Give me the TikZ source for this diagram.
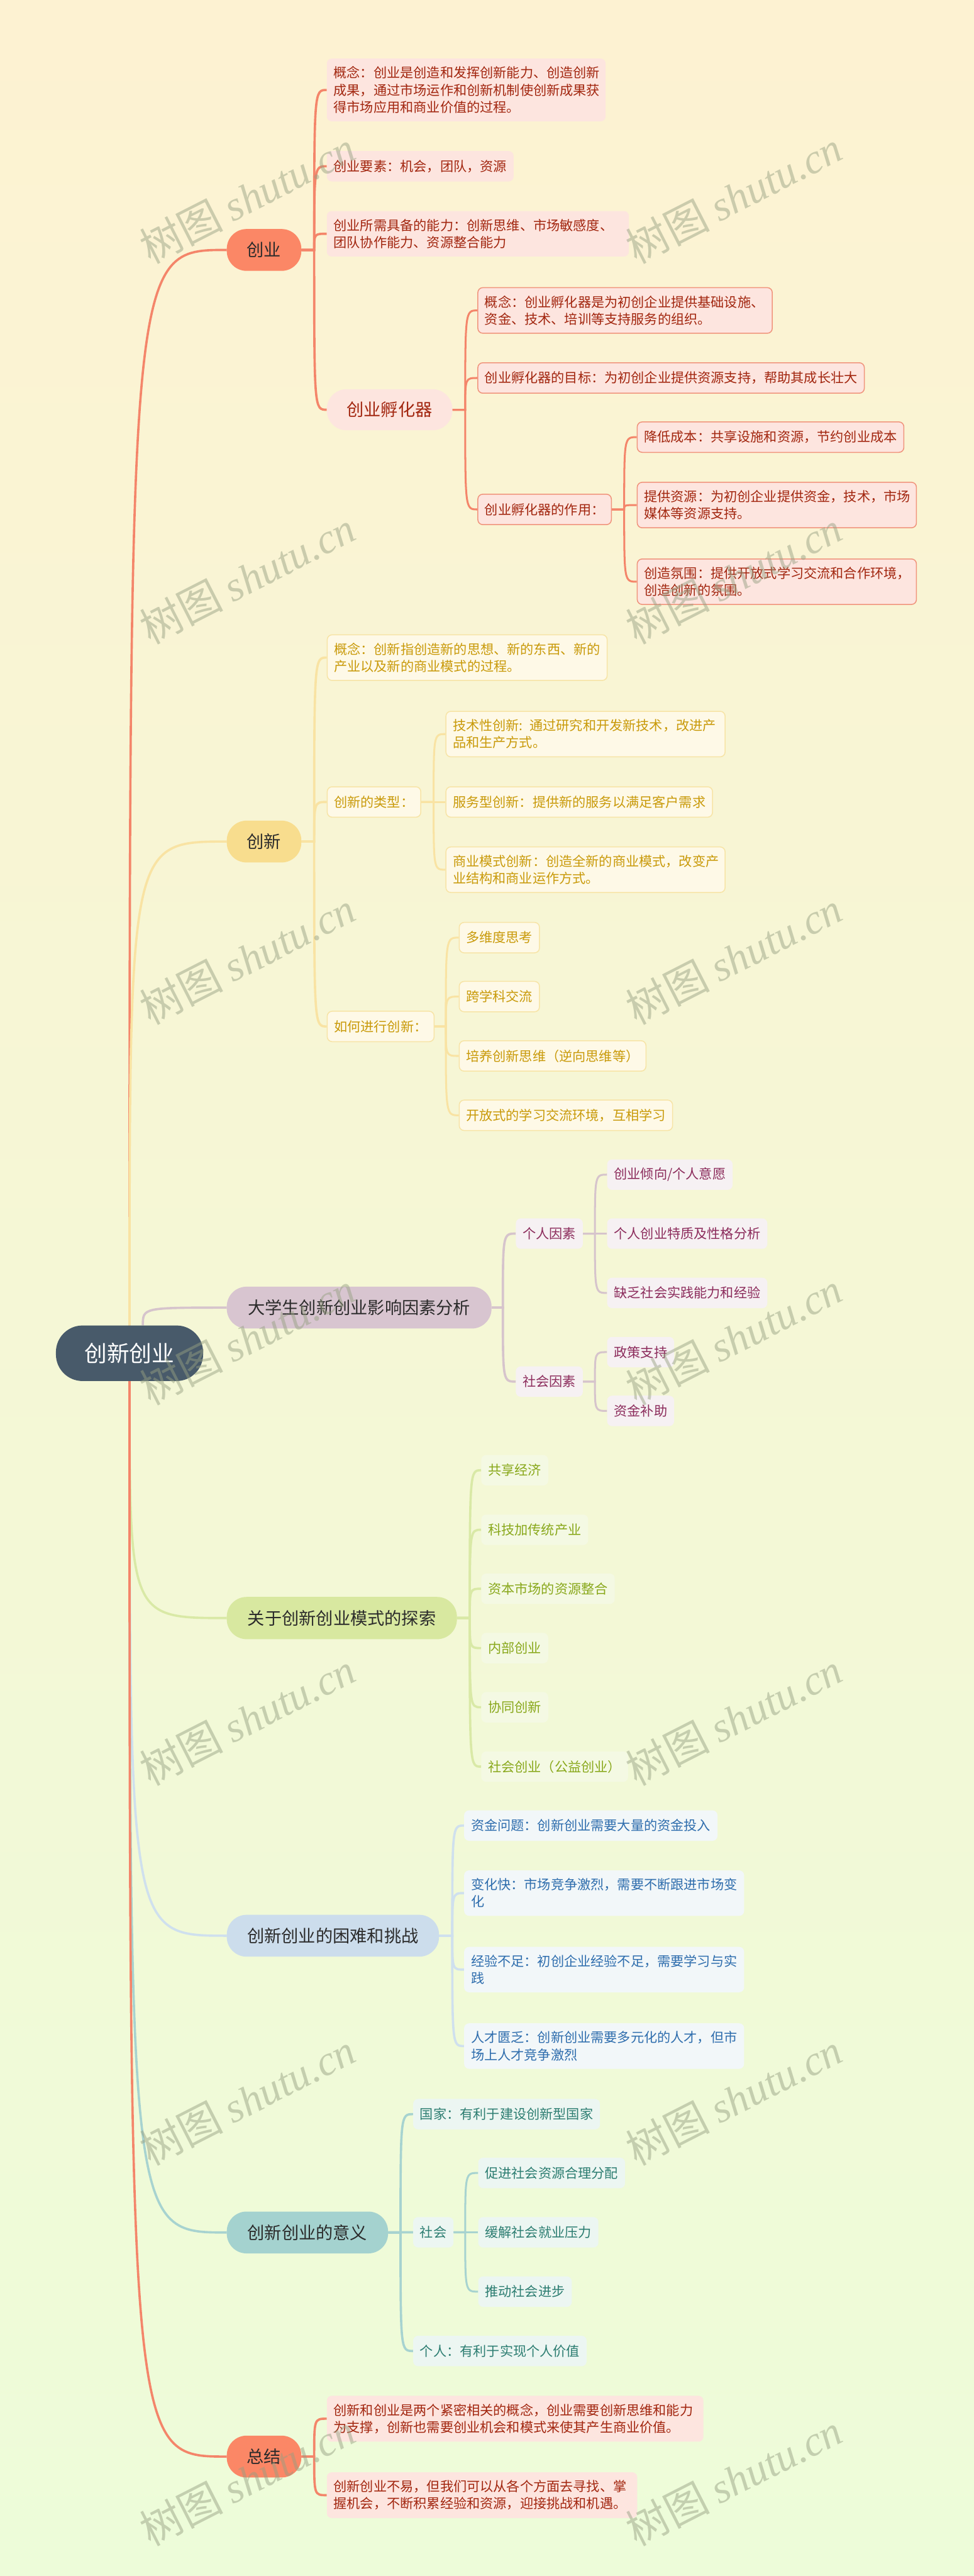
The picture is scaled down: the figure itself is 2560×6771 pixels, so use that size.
\documentclass[tikz,border=0pt]{standalone}
\usepackage{fontspec}
\setmainfont{Noto Sans CJK SC}
\newfontfamily\wmlatin{Liberation Serif}
\usetikzlibrary{calc}
\pgfdeclarelayer{bg}
\pgfdeclarelayer{lines}
\pgfdeclarelayer{wm}
\pgfsetlayers{bg,lines,main,wm}

\definecolor{bgtop}{HTML}{FDF2D2}
\definecolor{bgmid}{HTML}{F7F8D5}
\definecolor{bgbot}{HTML}{EDFCD9}
\definecolor{rootc}{HTML}{485A6A}
\definecolor{maintext}{HTML}{2B2B2B}
% coral
\definecolor{coral}{HTML}{FB8766}
\definecolor{coralln}{HTML}{F4856A}
\definecolor{pinkfill}{HTML}{FDE5DF}
\definecolor{pinkline}{HTML}{F0947C}
\definecolor{redtext}{HTML}{A2260F}
% yellow
\definecolor{yelc}{HTML}{F8DD8E}
\definecolor{yelln}{HTML}{F9E3A3}
\definecolor{yelfill}{HTML}{FEF9E7}
\definecolor{yelline}{HTML}{F7E4A6}
\definecolor{yeltext}{HTML}{C99A0A}
% mauve
\definecolor{mauvec}{HTML}{D8C5D0}
\definecolor{mauveln}{HTML}{D6C4CC}
\definecolor{mauvefill}{HTML}{F6F1F3}
\definecolor{mauvetext}{HTML}{8C2C5C}
% olive
\definecolor{olivec}{HTML}{D8E8A0}
\definecolor{oliveln}{HTML}{D9E9A6}
\definecolor{olivefill}{HTML}{F4F9E3}
\definecolor{olivetext}{HTML}{89A81B}
% blue
\definecolor{bluec}{HTML}{CCDDEC}
\definecolor{blueln}{HTML}{CFE0EE}
\definecolor{bluefill}{HTML}{F2F7F9}
\definecolor{bluetext}{HTML}{2E6DAD}
% teal
\definecolor{tealc}{HTML}{A4D2CF}
\definecolor{tealln}{HTML}{A7D3D0}
\definecolor{tealfill}{HTML}{ECF6F2}
\definecolor{tealtext}{HTML}{2C7D71}
\definecolor{wmcol}{RGB}{150,160,130}

\tikzset{
  rootn/.style={fill=rootc, text=white, rounded corners=70, minimum width=387,
    minimum height=146, inner sep=0, font=\fontsize{59}{70}\selectfont},
  mainn/.style={rounded corners=52, minimum height=110, anchor=west, inner sep=0,
    text=maintext, font=\fontsize{45}{54}\selectfont},
  sub/.style={rounded corners=13, anchor=west, inner xsep=18, inner ysep=21,
    minimum height=80, font=\fontsize{35}{45}\selectfont, align=left},
  pinkbox/.style={sub, fill=pinkfill, text=redtext},
  pinkbd/.style={pinkbox, draw=pinkline, line width=2.5},
  yelbox/.style={sub, fill=yelfill, draw=yelline, line width=2.5, text=yeltext},
  mauvebox/.style={sub, fill=mauvefill, text=mauvetext},
  olivebox/.style={sub, fill=olivefill, text=olivetext},
  bluebox/.style={sub, fill=bluefill, text=bluetext},
  tealbox/.style={sub, fill=tealfill, text=tealtext},
  rl/.style={line width=6},
  cn/.style={line width=6},
  cn2/.style={line width=5},
  wmark/.style={rotate=27, text=wmcol, text opacity=0.48, inner sep=0,
    font=\fontsize{110}{115}\selectfont}
}
% parent -> child: short stub to the trunk, then a quadratic curve into the child
\newcommand\kid[4]{\draw[#1] (#2.east) -- (#2.east -| #3) .. controls (#3 |- #4.west) .. (#4.west);}

\begin{document}
\begin{tikzpicture}[x=1pt,y=-1pt]
\useasboundingbox (0,0) rectangle (2560,6771);
\begin{pgfonlayer}{bg}
\shade[top color=bgtop, middle color=bgmid, bottom color=bgbot] (0,0) rectangle (2560,6771);
\end{pgfonlayer}

% trunk coordinates
\coordinate (T1) at (826,0);
\coordinate (Tb) at (1223,0);
\coordinate (Tc) at (1641,0);
\coordinate (Te) at (1140,0);
\coordinate (Tf) at (1172,0);
\coordinate (T3) at (1322,0);
\coordinate (Th) at (1564,0);
\coordinate (T4) at (1235,0);
\coordinate (T5) at (1189,0);
\coordinate (T6) at (1053,0);
\coordinate (Tr) at (1223,0);

% root and main nodes
\node[rootn] (root) at (340.5,3557) {创新创业};
\node[mainn, fill=coral, minimum width=196] (m1) at (596,657) {创业};
\node[mainn, fill=yelc, minimum width=196] (m2) at (596,2212) {创新};
\node[mainn, fill=mauvec, minimum width=696] (m3) at (596,3437) {大学生创新创业影响因素分析};
\node[mainn, fill=olivec, minimum width=605, minimum height=111] (m4) at (596,4253) {关于创新创业模式的探索};
\node[mainn, fill=bluec, minimum width=558] (m5) at (596,5088) {创新创业的困难和挑战};
\node[mainn, fill=tealc, minimum width=424] (m6) at (596,5868) {创新创业的意义};
\node[mainn, fill=coral, minimum width=196] (m7) at (596,6457) {总结};

% 创业
\node[pinkbox, text width=697] (a1) at (859,236.5) {概念：创业是创造和发挥创新能力、创造创新\\成果，通过市场运作和创新机制使创新成果获\\得市场应用和商业价值的过程。};
\node[pinkbox] (a2) at (859,437) {创业要素：机会，团队，资源};
\node[pinkbox, text width=758] (a3) at (859,614.5) {创业所需具备的能力：创新思维、市场敏感度、\\团队协作能力、资源整合能力};
\node[pinkbox, rounded corners=52, font=\fontsize{45}{54}\selectfont, minimum width=330, minimum height=108, align=center, inner sep=0] (a4) at (859,1077) {创业孵化器};
\node[pinkbd, text width=738] (b1) at (1255,816) {概念：创业孵化器是为初创企业提供基础设施、\\资金、技术、培训等支持服务的组织。};
\node[pinkbd] (b2) at (1255,993.5) {创业孵化器的目标：为初创企业提供资源支持，帮助其成长壮大};
\node[pinkbd] (b3) at (1255,1339) {创业孵化器的作用：};
\node[pinkbd] (c1) at (1674,1149) {降低成本：共享设施和资源，节约创业成本};
\node[pinkbd, text width=698] (c2) at (1674,1327.5) {提供资源：为初创企业提供资金，技术，市场\\媒体等资源支持。};
\node[pinkbd, text width=698] (c3) at (1674,1529) {创造氛围：提供开放式学习交流和合作环境，\\创造创新的氛围。};

% 创新
\node[yelbox, text width=700] (d1) at (859,1728.5) {概念：创新指创造新的思想、新的东西、新的\\产业以及新的商业模式的过程。};
\node[yelbox] (d2) at (859,2108) {创新的类型：};
\node[yelbox, text width=698] (e1) at (1171,1929.5) {技术性创新: 通过研究和开发新技术，改进产\\品和生产方式。};
\node[yelbox] (e2) at (1171,2108) {服务型创新：提供新的服务以满足客户需求};
\node[yelbox, text width=698] (e3) at (1171,2286) {商业模式创新：创造全新的商业模式，改变产\\业结构和商业运作方式。};
\node[yelbox] (d3) at (859,2698) {如何进行创新：};
\node[yelbox] (f1) at (1206,2464.5) {多维度思考};
\node[yelbox] (f2) at (1206,2619.5) {跨学科交流};
\node[yelbox] (f3) at (1206,2775.5) {培养创新思维（逆向思维等）};
\node[yelbox] (f4) at (1206,2931.5) {开放式的学习交流环境，互相学习};

% 大学生
\node[mauvebox] (g1) at (1356,3242.5) {个人因素};
\node[mauvebox] (h1) at (1596,3087.5) {创业倾向/个人意愿};
\node[mauvebox] (h2) at (1596,3242.5) {个人创业特质及性格分析};
\node[mauvebox] (h3) at (1596,3398.5) {缺乏社会实践能力和经验};
\node[mauvebox] (g2) at (1356,3631.5) {社会因素};
\node[mauvebox] (h4) at (1596,3554) {政策支持};
\node[mauvebox] (h5) at (1596,3708.5) {资金补助};

% 模式
\node[olivebox] (o1) at (1265,3864.5) {共享经济};
\node[olivebox] (o2) at (1265,4021) {科技加传统产业};
\node[olivebox] (o3) at (1265,4176) {资本市场的资源整合};
\node[olivebox] (o4) at (1265,4332) {内部创业};
\node[olivebox] (o5) at (1265,4487.5) {协同创新};
\node[olivebox] (o6) at (1265,4643.5) {社会创业（公益创业）};

% 困难
\node[bluebox] (p1) at (1220,4798.5) {资金问题：创新创业需要大量的资金投入};
\node[bluebox, text width=700] (p2) at (1220,4976) {变化快：市场竞争激烈，需要不断跟进市场变\\化};
\node[bluebox, text width=700] (p3) at (1220,5177) {经验不足：初创企业经验不足，需要学习与实\\践};
\node[bluebox, text width=700] (p4) at (1220,5378) {人才匮乏：创新创业需要多元化的人才，但市\\场上人才竞争激烈};

% 意义
\node[tealbox] (q1) at (1086,5557) {国家：有利于建设创新型国家};
\node[tealbox] (q2) at (1086,5867.5) {社会};
\node[tealbox] (r1) at (1257,5711.5) {促进社会资源合理分配};
\node[tealbox] (r2) at (1257,5867.5) {缓解社会就业压力};
\node[tealbox] (r3) at (1257,6023.5) {推动社会进步};
\node[tealbox] (q3) at (1086,6179.5) {个人：有利于实现个人价值};

% 总结
\node[pinkbox, text width=954] (s1) at (859,6357.5) {创新和创业是两个紧密相关的概念，创业需要创新思维和能力\\为支撑，创新也需要创业机会和模式来使其产生商业价值。};
\node[pinkbox, text width=780] (s2) at (859,6558.5) {创新创业不易，但我们可以从各个方面去寻找、掌\\握机会，不断积累经验和资源，迎接挑战和机遇。};

\begin{pgfonlayer}{lines}
% root connectors: quadratic curves from the root's top / bottom
\draw[rl, coralln] (root.north) .. controls (root.north |- m1.west) .. (m1.west);
\draw[rl, yelln] (root.north) .. controls (root.north |- m2.west) .. (m2.west);
\draw[rl, mauveln] ([xshift=35]root.north) .. controls ([xshift=35]root.north |- m3.west) .. (m3.west);
\draw[rl, oliveln] (root.south) .. controls (root.south |- m4.west) .. (m4.west);
\draw[rl, blueln] (root.south) .. controls (root.south |- m5.west) .. (m5.west);
\draw[rl, tealln] (root.south) .. controls (root.south |- m6.west) .. (m6.west);
\draw[rl, coralln] (root.south) .. controls (root.south |- m7.west) .. (m7.west);

% 创业
\kid{cn, coralln}{m1}{T1}{a1}
\kid{cn, coralln}{m1}{T1}{a2}
\kid{cn, coralln}{m1}{T1}{a3}
\kid{cn, coralln}{m1}{T1}{a4}
\kid{cn2, coralln}{a4}{Tb}{b1}
\kid{cn2, coralln}{a4}{Tb}{b2}
\kid{cn2, coralln}{a4}{Tb}{b3}
\kid{cn2, coralln}{b3}{Tc}{c1}
\kid{cn2, coralln}{b3}{Tc}{c2}
\kid{cn2, coralln}{b3}{Tc}{c3}

% 创新
\kid{cn, yelln}{m2}{T1}{d1}
\kid{cn, yelln}{m2}{T1}{d2}
\kid{cn, yelln}{m2}{T1}{d3}
\kid{cn2, yelln}{d2}{Te}{e1}
\kid{cn2, yelln}{d2}{Te}{e2}
\kid{cn2, yelln}{d2}{Te}{e3}
\kid{cn2, yelln}{d3}{Tf}{f1}
\kid{cn2, yelln}{d3}{Tf}{f2}
\kid{cn2, yelln}{d3}{Tf}{f3}
\kid{cn2, yelln}{d3}{Tf}{f4}

% 大学生
\kid{cn, mauveln}{m3}{T3}{g1}
\kid{cn, mauveln}{m3}{T3}{g2}
\kid{cn2, mauveln}{g1}{Th}{h1}
\kid{cn2, mauveln}{g1}{Th}{h2}
\kid{cn2, mauveln}{g1}{Th}{h3}
\kid{cn2, mauveln}{g2}{Th}{h4}
\kid{cn2, mauveln}{g2}{Th}{h5}

% 模式
\kid{cn, oliveln}{m4}{T4}{o1}
\kid{cn, oliveln}{m4}{T4}{o2}
\kid{cn, oliveln}{m4}{T4}{o3}
\kid{cn, oliveln}{m4}{T4}{o4}
\kid{cn, oliveln}{m4}{T4}{o5}
\kid{cn, oliveln}{m4}{T4}{o6}

% 困难
\kid{cn, blueln}{m5}{T5}{p1}
\kid{cn, blueln}{m5}{T5}{p2}
\kid{cn, blueln}{m5}{T5}{p3}
\kid{cn, blueln}{m5}{T5}{p4}

% 意义
\kid{cn, tealln}{m6}{T6}{q1}
\kid{cn, tealln}{m6}{T6}{q2}
\kid{cn, tealln}{m6}{T6}{q3}
\kid{cn2, tealln}{q2}{Tr}{r1}
\kid{cn2, tealln}{q2}{Tr}{r2}
\kid{cn2, tealln}{q2}{Tr}{r3}

% 总结
\kid{cn, coralln}{m7}{T1}{s1}
\kid{cn, coralln}{m7}{T1}{s2}
\end{pgfonlayer}

\begin{pgfonlayer}{wm}
\foreach \k in {0,...,6}{
  \node[wmark] (wl\k) at (650,518+1000*\k) {树图 {\wmlatin\itshape shutu.cn}};
  \node[wmark] (wr\k) at (1929,518+1000*\k) {树图 {\wmlatin\itshape shutu.cn}};
}
\end{pgfonlayer}
\end{tikzpicture}
\end{document}
